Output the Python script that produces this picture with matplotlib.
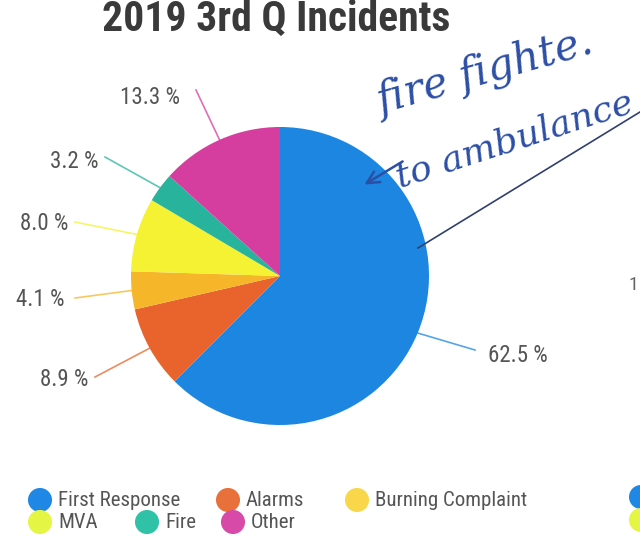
import matplotlib.pyplot as plt
import numpy as np

categories = ['First Response', 'Alarms', 'Burning Complaint', 'MVA', 'Fire', 'Other']
values = [62.5, 8.9, 4.1, 8.0, 3.2, 13.3]
pie_colors = ['#1c86e0', '#e8642c', '#f6b62a', '#f4f232', '#27b39c', '#d53e9e']
dot_colors = ['#1f88e4', '#e8703a', '#f8d84a', '#e4f544', '#30c2a6', '#d84aa8']

H = 540
def py(y):
    # pixel row -> data y
    return H - y

fam = ['Liberation Sans Narrow', 'Roboto Condensed', 'Liberation Sans', 'DejaVu Sans']

fig = plt.figure(figsize=(6.4, 5.4), dpi=100)
ax = fig.add_axes([0, 0, 1, 1])

cx, cy, r = 280, 276, 149
wedges, _ = ax.pie(values, colors=pie_colors, startangle=90, counterclock=False,
                   center=(cx, py(cy)), radius=r, wedgeprops=dict(linewidth=0))
ax.set_xlim(0, 640)
ax.set_ylim(0, H)
ax.set_aspect('equal')
ax.axis('off')

# label end points (pixels) and text anchors
line_ends = [(475, 350), (95, 377), (75, 298), (75, 222), (105, 157), (196, 90)]
text_pos = [(488, 356, 'left'), (88, 380, 'right'), (64, 300, 'right'),
            (68, 224, 'right'), (98, 162, 'right'), (180, 98, 'right')]
for w, v, c, (ex, ey), (tx, ty, ha) in zip(wedges, values, pie_colors, line_ends, text_pos):
    mid = np.deg2rad((w.theta1 + w.theta2) / 2)
    sx = cx + r * np.cos(mid)
    sy = py(cy) + r * np.sin(mid)
    ax.plot([sx, ex], [sy, py(ey)], color=c, lw=1.2, alpha=0.75)
    ax.text(tx, py(ty), f'{v:.1f} %', ha=ha, va='center', fontsize=16.5,
            color='#555555', family=fam)

ax.text(276, py(31), '2019 3rd Q Incidents', ha='center', va='baseline',
        fontsize=30, fontweight='bold', color='#3a3a3a', family=fam)

# legend, flowing in two rows
leg_x = [40, 228, 357, 40, 147, 233]
leg_y = [500, 500, 500, 522, 522, 522]
for name, c, x, y in zip(categories, dot_colors, leg_x, leg_y):
    ax.scatter(x, py(y), s=300, color=c, edgecolors='none')
    ax.text(x + 18, py(y), name, ha='left', va='center', fontsize=15,
            color='#555555', family=fam)

# edge of the next chart on the page
ax.scatter([641, 641], [py(497), py(520)], s=300, color=[dot_colors[0], dot_colors[3]],
           edgecolors='none', clip_on=True)
ax.text(628, py(285), '1', fontsize=14, color='#666666', va='center', family=fam)

# handwritten note
ink = '#2c4fa6'
ax.text(485, py(72), 'fire fighte.', rotation=16, ha='center', va='center',
        fontsize=30, fontstyle='italic', color=ink, family='DejaVu Serif')
ax.text(515, py(140), 'to ambulance', rotation=18, ha='center', va='center',
        fontsize=26, fontstyle='italic', color=ink, family='DejaVu Serif')
ax.annotate('', xy=(362, py(186)), xytext=(405, py(160)),
            arrowprops=dict(arrowstyle='->', color=ink, lw=1.8, mutation_scale=22))
ax.plot([418, 640], [py(248), py(112)], color='#30406e', lw=1.2)

fig.savefig('out.png', dpi=100)
